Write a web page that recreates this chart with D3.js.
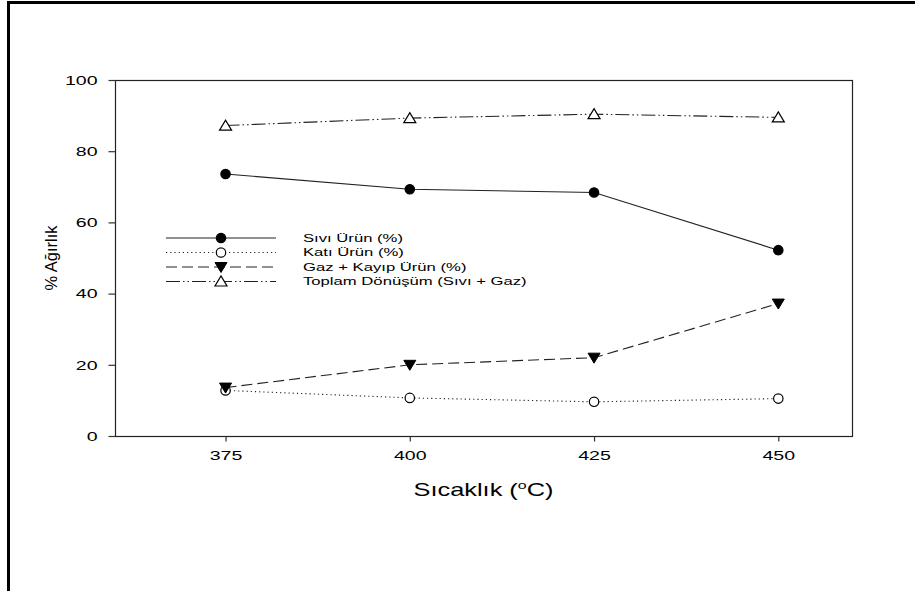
<!DOCTYPE html>
<html>
<head>
<meta charset="utf-8">
<script src="https://cdn.jsdelivr.net/npm/d3@7"></script>
<style>
  html, body { margin: 0; padding: 0; background: #fff; }
  svg { display: block; font-family: "Liberation Sans", Arial, sans-serif; }
</style>
</head>
<body>
<svg id="chart" width="915" height="591"></svg>
<script>
// Reaction temperatures (°C)
const temperatures = [375, 400, 425, 450];
// Product yields, % by weight
const sivi   = [73.6, 69.3, 68.4, 52.2];
const kati   = [12.8, 10.7, 9.6, 10.5];
const gaz    = [13.6, 20.0, 22.0, 37.2];
const toplam = [87.2, 89.3, 90.4, 89.5];
const seriesNames = ["Sıvı Ürün (%)", "Katı Ürün (%)", "Gaz + Kayıp Ürün (%)", "Toplam Dönüşüm (Sıvı + Gaz)"];
const xTicks = [375, 400, 425, 450];
const yTicks = [0, 20, 40, 60, 80, 100];

// the type in this figure is set horizontally widened
const WIDEN = 1.45;

const svg = d3.select("#chart");

// outer frame (top and left edges)
svg.append("line").attr("x1", 8.5).attr("x2", 915).attr("y1", 2.5).attr("y2", 2.5)
  .attr("stroke", "#000").attr("stroke-width", 3);
svg.append("line").attr("x1", 8.5).attr("x2", 8.5).attr("y1", 1).attr("y2", 591)
  .attr("stroke", "#000").attr("stroke-width", 3);

const plot = { left: 115, right: 852, top: 80, bottom: 436 };
const x = d3.scaleLinear().domain([360, 460]).range([plot.left, plot.right]);
const y = d3.scaleLinear().domain([0, 100]).range([plot.bottom, plot.top]);

// plot frame
svg.append("rect")
  .attr("x", plot.left + 0.5).attr("y", plot.top + 0.5)
  .attr("width", plot.right - plot.left).attr("height", plot.bottom - plot.top)
  .attr("fill", "none").attr("stroke", "#222").attr("stroke-width", 1.2);

// widen a text element about its own anchor x
function widen(sel, ax) {
  sel.attr("transform", `translate(${ax},0) scale(${WIDEN},1) translate(${-ax},0)`);
}

// axes
const xAxis = svg.append("g").attr("transform", `translate(0,${plot.bottom + 0.5})`)
  .call(d3.axisBottom(x).tickValues(xTicks).tickSize(5).tickPadding(9).tickFormat(d3.format("d")));
const yAxis = svg.append("g").attr("transform", `translate(${plot.left + 0.5},0)`)
  .call(d3.axisLeft(y).tickValues(yTicks).tickSize(7).tickPadding(11).tickFormat(d3.format("d")));
[xAxis, yAxis].forEach(g => {
  g.select(".domain").remove();
  g.selectAll(".tick line").attr("stroke", "#333").attr("stroke-width", 1.2);
  g.selectAll(".tick text").attr("fill", "#000").style("font-size", "13.5px")
    .style("font-family", "'Liberation Sans', Arial, sans-serif")
    .each(function () {
      const t = d3.select(this);
      widen(t, +t.attr("x") || 0);
    });
});

// axis titles
svg.append("text")
  .attr("transform", `translate(57,${(plot.top + plot.bottom) / 2}) rotate(-90)`)
  .attr("text-anchor", "middle").style("font-size", "16.5px").text("% Ağırlık");
const xtX = (plot.left + plot.right) / 2;
const xt = svg.append("text").attr("x", xtX).attr("y", 496)
  .attr("text-anchor", "middle").style("font-size", "17.5px");
xt.append("tspan").text("Sıcaklık (");
xt.append("tspan").attr("dy", -7).style("font-size", "11px").text("o");
xt.append("tspan").attr("dy", 7).text("C)");
widen(xt, xtX);

const styles = [
  { data: sivi,   dash: null,               marker: "circle",       fill: "#000" },
  { data: kati,   dash: "1.2,3",            marker: "circle",       fill: "#fff" },
  { data: gaz,    dash: "11,5",             marker: "triangleDown", fill: "#000" },
  { data: toplam, dash: "14,3,1.5,3,1.5,3", marker: "triangleUp",   fill: "#fff" }
];

const line = d3.line().x(d => x(d[0])).y(d => y(d[1]));

function drawMarker(g, kind, cx, cy, fill) {
  if (kind === "circle") {
    g.append("circle").attr("cx", cx).attr("cy", cy).attr("r", 4.7)
      .attr("fill", fill).attr("stroke", "#000").attr("stroke-width", 1.2);
  } else if (kind === "triangleDown") {
    g.append("path").attr("d", `M${cx - 6},${cy - 4.5}L${cx + 6},${cy - 4.5}L${cx},${cy + 5.5}Z`)
      .attr("fill", fill).attr("stroke", "#000").attr("stroke-width", 1);
  } else {
    g.append("path").attr("d", `M${cx - 6},${cy + 4.5}L${cx + 6},${cy + 4.5}L${cx},${cy - 5.5}Z`)
      .attr("fill", fill).attr("stroke", "#000").attr("stroke-width", 1.2);
  }
}

styles.forEach(s => {
  const pts = temperatures.map((t, i) => [t, s.data[i]]);
  svg.append("path").attr("d", line(pts)).attr("fill", "none")
    .attr("stroke", "#222").attr("stroke-width", 1.1)
    .attr("stroke-dasharray", s.dash);
});
styles.forEach(s => {
  const g = svg.append("g");
  temperatures.forEach((t, i) => drawMarker(g, s.marker, x(t), y(s.data[i]), s.fill));
});

// legend
const legendX0 = 166, legendX1 = 276, legendMid = 221, legendText = 303;
const legendY = [238, 252.5, 267, 281.5];
styles.forEach((s, i) => {
  const g = svg.append("g");
  g.append("line").attr("x1", legendX0).attr("x2", legendX1)
    .attr("y1", legendY[i]).attr("y2", legendY[i])
    .attr("stroke", "#222").attr("stroke-width", 1.1).attr("stroke-dasharray", s.dash);
  drawMarker(g, s.marker, legendMid, legendY[i], s.fill);
  const t = g.append("text").attr("x", legendText).attr("y", legendY[i] + 4)
    .style("font-size", "11.5px").text(seriesNames[i]);
  widen(t, legendText);
});
</script>
</body>
</html>
